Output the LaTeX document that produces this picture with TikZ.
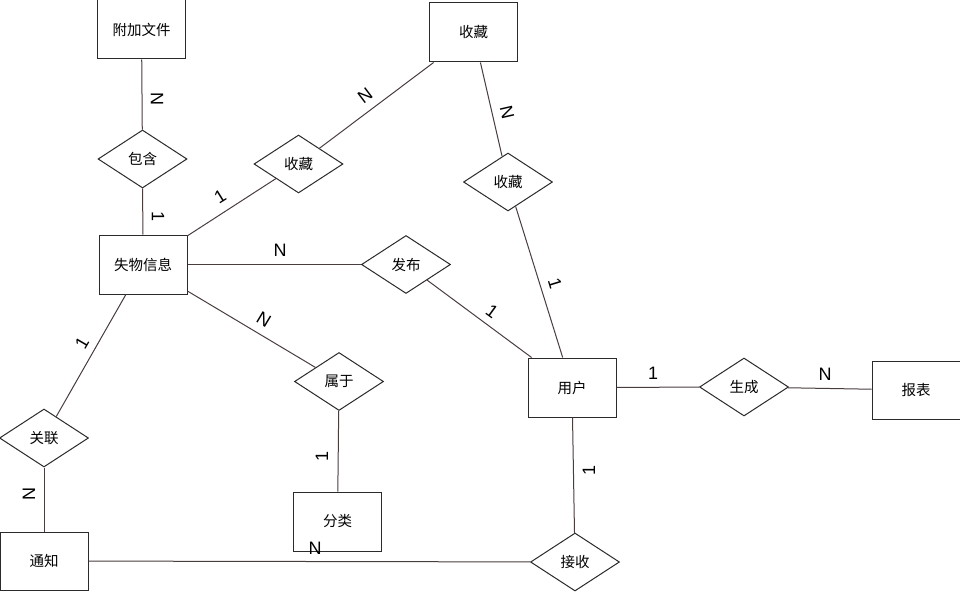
\documentclass[tikz,border=0pt]{standalone}
\usepackage{fontspec}
\setmainfont{Liberation Sans}
\newfontfamily\cjk{Noto Sans CJK SC}
\usetikzlibrary{shapes.geometric}
\definecolor{edgecol}{HTML}{4A3D3D}
\definecolor{boxcol}{HTML}{2B2B2B}
\tikzset{
  entity/.style={draw=boxcol, line width=1pt, fill=white, rectangle,
    minimum width=88pt, minimum height=59pt, inner sep=0pt,
    font=\cjk\fontsize{14.5}{16}\selectfont},
  relation/.style={draw=boxcol, line width=1pt, fill=white, diamond,
    minimum width=89pt, minimum height=58pt, inner sep=0pt,
    font=\cjk\fontsize{14.5}{16}\selectfont},
  link/.style={draw=edgecol, line width=1pt},
  card/.style={inner sep=0pt, font=\fontsize{18}{20}\selectfont}
}
\begin{document}
\begin{tikzpicture}[x=1pt,y=-1pt]
  \useasboundingbox (0,0) rectangle (960,591);

  % entities
  \node[entity] (fj)  at (141.5,29.5) {附加文件};
  \node[entity] (sc1) at (473.5,32.5) {收藏};
  \node[entity] (sw)  at (143,264.5)  {失物信息};
  \node[entity] (yh)  at (572,387.5)  {用户};
  \node[entity, minimum height=58pt] (bb)  at (916,390) {报表};
  \node[entity] (fl)  at (337.5,521.5) {分类};
  \node[entity, minimum height=58pt] (tz)  at (44,561) {通知};

  % relationships
  \node[relation] (bh)  at (142.5,159) {包含};
  \node[relation] (scA) at (298.5,164) {收藏};
  \node[relation] (fb)  at (406,264.5) {发布};
  \node[relation] (scB) at (508,182)   {收藏};
  \node[relation] (sy)  at (339,381.5) {属于};
  \node[relation] (gl)  at (44,438)    {关联};
  \node[relation] (scn) at (744,387)   {生成};
  \node[relation] (js)  at (575,562)   {接收};

  % connectors
  \draw[link] (fj) -- (bh);
  \draw[link] (bh) -- (sw);
  \draw[link] (sw) -- (scA);
  \draw[link] (scA) -- (sc1);
  \draw[link] (sw) -- (fb);
  \draw[link] (fb) -- (yh);
  \draw[link] (sc1) -- (scB);
  \draw[link] (scB) -- (yh);
  \draw[link] (sw) -- (sy);
  \draw[link] (sy) -- (fl);
  \draw[link] (sw) -- (gl);
  \draw[link] (gl) -- (tz);
  \draw[link] (tz) -- (js);
  \draw[link] (yh) -- (js);
  \draw[link] (yh) -- (scn);
  \draw[link] (scn) -- (bb);

  % cardinalities
  \node[card, rotate=-90] (c1)  at (157,99)  {N};
  \node[card, rotate=-90] (c2)  at (158,217) {1};
  \node[card, rotate=32]  (c3)  at (220,197) {1};
  \node[card, rotate=37]  (c4)  at (365,96)  {N};
  \node[card]             (c5)  at (280,250) {N};
  \node[card, rotate=-36] (c6)  at (492,311) {1};
  \node[card, rotate=-77] (c7)  at (507,112) {N};
  \node[card, rotate=-73] (c8)  at (555,283) {1};
  \node[card, rotate=-31] (c9)  at (264,320) {N};
  \node[card, rotate=90]  (c10) at (322,456) {1};
  \node[card, rotate=60]  (c11) at (82,343)  {1};
  \node[card, rotate=90]  (c12) at (29,494)  {N};
  \node[card]             (c13) at (315,548) {N};
  \node[card, rotate=90]  (c14) at (589,470) {1};
  \node[card]             (c15) at (653,373) {1};
  \node[card]             (c16) at (825,374) {N};
\end{tikzpicture}
\end{document}
